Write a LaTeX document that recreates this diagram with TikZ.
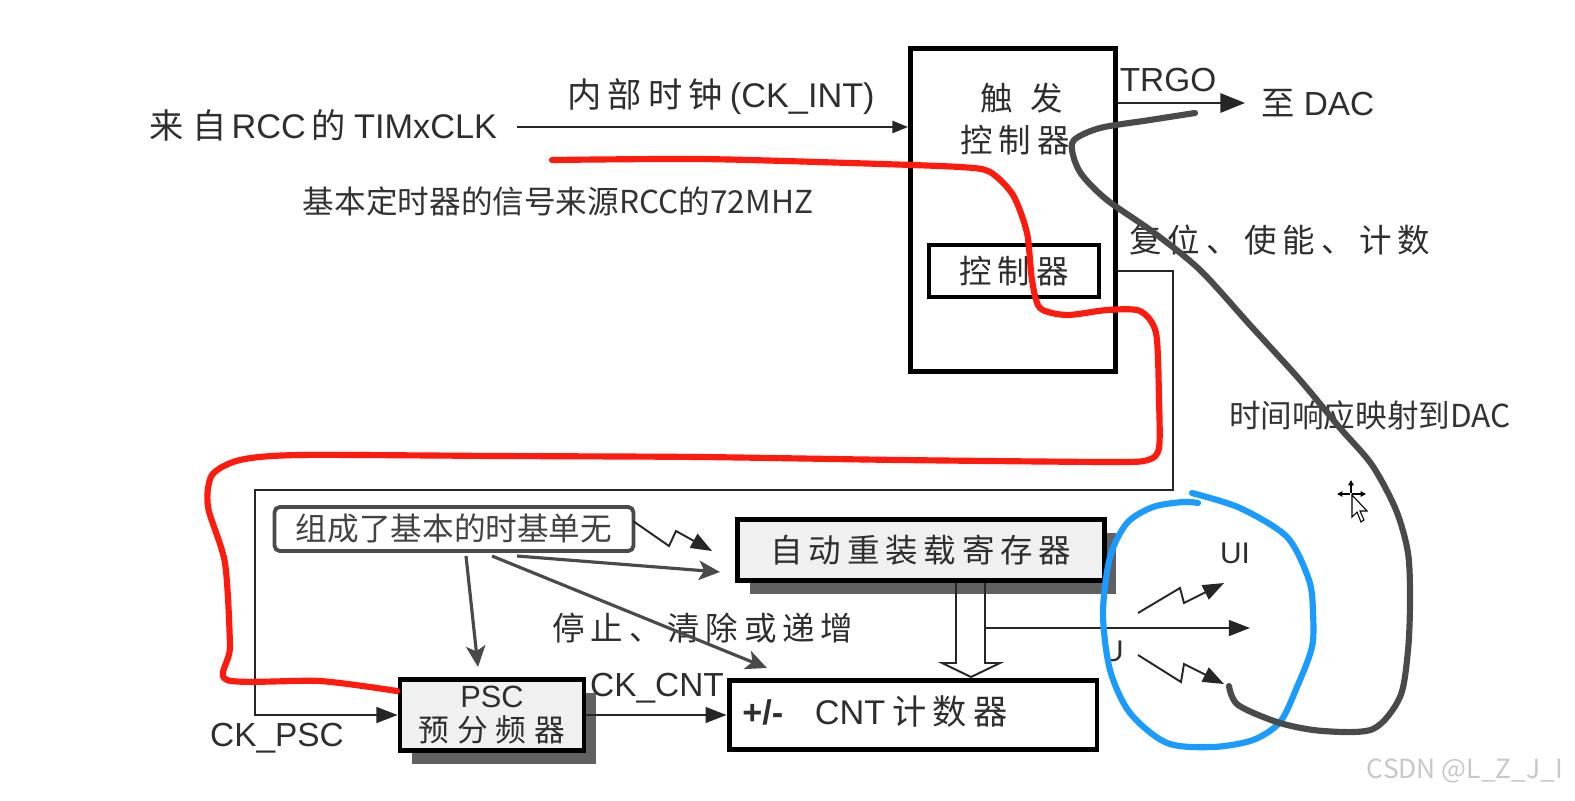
\documentclass[tikz,border=0pt]{standalone}
\usepackage{fontspec}
\setmainfont{Liberation Sans}
\newfontfamily\cjk{Noto Sans CJK SC}
\newfontfamily\cjkls[LetterSpace=18]{Noto Sans CJK SC}
\newfontfamily\cjkLs[LetterSpace=25]{Noto Sans CJK SC}
\newcommand\cj[1]{{\cjk #1}}
\usetikzlibrary{arrows.meta,shadows,calc}
\definecolor{txt}{HTML}{2E2E2E}
\definecolor{redpen}{HTML}{FF1A0E}
\definecolor{bluepen}{HTML}{1A9BFF}
\definecolor{graypen}{HTML}{4A4A4A}
\definecolor{boxfill}{HTML}{F0F0F0}
\definecolor{wm}{HTML}{C8C8C8}
\begin{document}
\begin{tikzpicture}[x=0.02cm,y=-0.02cm,
  lbl/.style={text=txt,inner sep=0pt,align=center},
  f18/.style={font=\fontsize{18.5}{22}\selectfont},
  hbox/.style={draw=black,line width=2.8pt,inner sep=0pt,text=txt,align=center},
  shbox/.style={hbox,fill=boxfill,drop shadow={shadow xshift=0.24cm,shadow yshift=-0.27cm,fill=black!62,opacity=1}},
  wire/.style={draw=black!85,line width=1.1pt},
  tip/.style={-{Triangle[length=12pt,width=9pt]}},
  garrow/.style={draw=graypen,line width=1.8pt,-{Stealth[length=12pt,width=11pt,inset=3pt]}},
  hand/.style={line width=3.5pt,line cap=round,line join=round},
]
\useasboundingbox (0,0) rectangle (1575,801);

% ---------- boxes ----------
\node[hbox,minimum width=4.1cm,minimum height=6.46cm] (trig) at (1013,210) {};
\node[lbl,f18] (trigA) at (1022,98) {\cj{触}\hspace{10pt}\cj{发}};
\node[lbl,f18] (trigB) at (1015,140) {\cjkls 控制器};
\node[hbox,minimum width=3.4cm,minimum height=1.04cm,f18] (ctrl) at (1014,271) {\cjkls 控制器};

\node[shbox,minimum width=7.34cm,minimum height=1.22cm,f18] (arr) at (921,550) {\cjkls 自动重装载寄存器};
\node[hbox,minimum width=7.36cm,minimum height=1.38cm] (cnt) at (913,715) {};
\node[lbl,anchor=west,font=\fontsize{19.5}{22}\selectfont] (cntt) at (742,712) {\textbf{+/-}\hspace{18pt}CNT\hspace{4pt}{\cjkls 计数器}};
\node[shbox,minimum width=3.68cm,minimum height=1.42cm,font=\fontsize{17.5}{19}\selectfont] (psc) at (492,715) {PSC\\{\cjkLs 预分频器}};

\node[draw=graypen,line width=2.2pt,rounded corners=3pt,minimum width=7.18cm,minimum height=0.88cm,inner sep=0pt,text=txt!90,font=\cjk\fontsize{18}{21}\selectfont] (unit) at (454,529) {组成了基本的时基单无};

% ---------- labels ----------
\node[lbl,font=\fontsize{19.5}{22}\selectfont] (src) at (323,125) {\cj{来}\hspace{5pt}\cj{自}\hspace{3pt}RCC\hspace{3pt}\cj{的}\hspace{5pt}TIMxCLK};
\node[lbl,font=\fontsize{19.5}{22}\selectfont] (ckint) at (721,97) {{\cjkls 内部时钟}\hspace{4pt}(CK\_INT)};
\node[lbl,font=\fontsize{19}{22}\selectfont] (trgo) at (1168,80) {TRGO};
\node[lbl,font=\fontsize{19}{22}\selectfont] (dacl) at (1318,103) {\cj{至}\hspace{5pt}DAC};
\node[lbl,f18] (rst) at (1280,240) {\cjkls 复位、使能、计数};
\node[lbl,f18] (stop) at (703,628) {\cjkls 停止、清除或递增};
\node[lbl,font=\fontsize{19}{22}\selectfont] (ckcnt) at (657,688) {CK\_CNT};
\node[lbl,font=\fontsize{19}{22}\selectfont] (ckpsc) at (277,738) {CK\_PSC};
\node[lbl,font=\fontsize{17}{20}\selectfont] (ui) at (1235,553) {UI};
\node[lbl,font=\fontsize{17}{20}\selectfont] (u) at (1113,651) {U};

\node[inner sep=0pt,text=black!80,font=\cjk\fontsize{18}{21}\selectfont] (ann1) at (558,201) {基本定时器的信号来源RCC的72MHZ};
\node[inner sep=0pt,text=black!80,font=\cjk\fontsize{18}{21}\selectfont] (ann2) at (1370,415) {时间响应映射到DAC};
\node[inner sep=0pt,text=wm,font=\cjk\fontsize{15}{18}\selectfont] (wmk) at (1465,771) {CSDN @L\_Z\_J\_I};

% ---------- connectors ----------
\coordinate (ckin) at (517,127);
\draw[wire,-{Triangle[length=9pt,width=7pt]}] (ckin) -- (ckin -| trig.west);

\coordinate (dac) at (1245,103);
\draw[wire,-{Triangle[length=14pt,width=11pt]}] (trig.east |- dac) -- (dac);

\coordinate (fr1) at (1173,490);
\coordinate (fr2) at (255,490);
\draw[wire,tip] (trig.east |- ctrl) -| (fr1) -- (fr2) |- (psc.west);

\draw[wire,tip] (psc.east) -- (cnt.west);

\coordinate (h1) at (956,663);
\coordinate (h2) at (985,663);
\draw[wire,line join=miter] (h1 |- arr.south) -- (h1) -- (942,663) -- (971,677) -- (1000,663) -- (h2) -- (h2 |- arr.south);
\coordinate (uo) at (1250,628);
\draw[wire,tip] (h2 |- uo) -- (uo);

\coordinate (za) at (1138,613);
\coordinate (zat) at (1224,583);
\draw[wire,tip] (za) -- (1180,588) -- (1184,603) -- (zat);
\coordinate (zb) at (1138,655);
\coordinate (zbt) at (1224,684);
\draw[wire,tip] (zb) -- (1181,682) -- (1184,664) -- (zbt);
\coordinate (zc) at (633,521);
\coordinate (zct) at (712,551);
\draw[wire,tip] (zc) -- (669,546) -- (676,531) -- (zct);

\coordinate (g1) at (466,556);
\coordinate (g1t) at (478,667);
\draw[garrow] (g1) -- (g1t);
\coordinate (g2) at (517,556);
\coordinate (g2t) at (720,572);
\draw[garrow] (g2) -- (g2t);
\coordinate (g3) at (492,556);
\coordinate (g3t) at (767,668);
\draw[garrow] (g3) -- (g3t);

% ---------- hand drawings ----------
\draw[hand,redpen] plot[smooth,tension=0.45] coordinates {
 (552,160) (700,159) (850,163) (960,167) (990,172) (1013,195) (1027,233) (1032,280) (1040,308)
 (1067,315) (1107,310) (1140,311) (1156,333) (1159,400) (1159,448) (1148,460) (1110,462)
 (900,460) (700,457) (500,456) (300,455) (240,460) (212,475) (208,507) (225,563) (230,647)
 (227,680) (320,681) (397,691)};

\draw[hand,bluepen] plot[smooth,tension=0.5] coordinates {
 (1192,493) (1240,508) (1287,537) (1309,580) (1313,613) (1312,647) (1297,687) (1280,722)
 (1253,740) (1213,747) (1167,743) (1130,713) (1110,670) (1103,613) (1110,557) (1127,523)
 (1153,507) (1183,502) (1198,503)};

\draw[hand,graypen] plot[smooth,tension=0.5] coordinates {
 (1195,113) (1150,120) (1100,128) (1074,140) (1073,155) (1082,175) (1107,200) (1153,232)
 (1200,270) (1250,325) (1300,380) (1340,428) (1372,465) (1396,510) (1408,553) (1410,600)
 (1408,650) (1400,697) (1373,729) (1323,731) (1280,723) (1238,705) (1229,686)};

% ---------- cursor ----------
\draw[line width=0.6pt,fill=white] (1352,495) -- (1352,517) -- (1357,512) -- (1361,522) -- (1364,520) -- (1360,511) -- (1367,511) -- cycle;
\draw[line width=0.8pt,-{Triangle[length=3pt,width=3pt]}] (1350,494) -- (1337,494);
\draw[line width=0.8pt,-{Triangle[length=3pt,width=3pt]}] (1352,494) -- (1366,494);
\draw[line width=0.8pt,-{Triangle[length=3pt,width=3pt]}] (1351,493) -- (1351,480);
\end{tikzpicture}
\end{document}
